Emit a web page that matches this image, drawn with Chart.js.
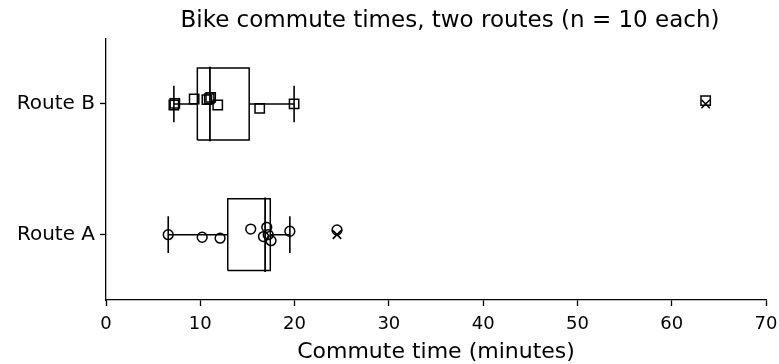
<!DOCTYPE html>
<html>
<head>
<meta charset="utf-8">
<script src="https://cdn.jsdelivr.net/npm/chart.js@4.4.0/dist/chart.umd.min.js"></script>
<style>
  html, body { margin: 0; padding: 0; background: #fff; }
  #wrap { width: 779px; height: 364px; }
</style>
</head>
<body>
<div id="wrap"><canvas id="grafico" width="779" height="364"></canvas></div>
<script>
// Datos
const rutas = ['Route A', 'Route B'];
const posiciones = [1, 2];
const tiemposA = [6.6, 10.2, 12.1, 15.35, 16.7, 17.05, 17.2, 17.5, 19.5, 24.5];
const jitterA = [0, -0.02, -0.027, 0.043, -0.015, 0.056, 0, -0.046, 0.026, 0.036];
const tiemposB = [7.2, 7.3, 9.35, 10.7, 10.95, 11.1, 11.85, 16.3, 19.95, 63.6];
const jitterB = [-0.008, 0.005, 0.038, 0.033, 0.04, 0.05, -0.008, -0.034, 0, 0.025];
const xTicks = [0, 10, 20, 30, 40, 50, 60, 70];

const anchoCaja = 0.275;
const anchoTope = 0.14;
const negro = '#000';

function percentil(valores, p) {
    const s = [...valores].sort((a, b) => a - b);
    const pos = (s.length - 1) * p;
    const i = Math.floor(pos);
    const f = pos - i;
    return i + 1 < s.length ? s[i] + f * (s[i + 1] - s[i]) : s[i];
}

function estadisticas(valores) {
    const q1 = percentil(valores, 0.25);
    const med = percentil(valores, 0.5);
    const q3 = percentil(valores, 0.75);
    const iqr = q3 - q1;
    const dentro = valores.filter(v => v >= q1 - 1.5 * iqr && v <= q3 + 1.5 * iqr);
    return {
        q1: q1, med: med, q3: q3,
        lo: Math.min(...dentro),
        hi: Math.max(...dentro),
        fuera: valores.filter(v => v < q1 - 1.5 * iqr || v > q3 + 1.5 * iqr)
    };
}

function linea(puntos, grosor) {
    return {
        type: 'scatter',
        data: puntos,
        showLine: true,
        borderColor: negro,
        borderWidth: grosor || 1.5,
        pointRadius: 0,
        fill: false
    };
}

function datasetsRuta(valores, jitter, p, forma, radio) {
    const st = estadisticas(valores);
    const w = anchoCaja, c = anchoTope;
    return [
        linea([{x: st.q1, y: p - w}, {x: st.q3, y: p - w}, {x: st.q3, y: p + w}, {x: st.q1, y: p + w}, {x: st.q1, y: p - w}]),
        linea([{x: st.med, y: p - w - 0.01}, {x: st.med, y: p + w + 0.01}], 1.8),
        linea([{x: st.lo, y: p}, {x: st.q1, y: p}]),
        linea([{x: st.q3, y: p}, {x: st.hi, y: p}]),
        linea([{x: st.lo, y: p - c}, {x: st.lo, y: p + c}], 1.6),
        linea([{x: st.hi, y: p - c}, {x: st.hi, y: p + c}], 1.6),
        {
            type: 'scatter',
            data: st.fuera.map(v => ({x: v, y: p})),
            pointStyle: 'crossRot',
            pointRadius: 6,
            borderColor: negro,
            borderWidth: 1.6
        },
        {
            type: 'scatter',
            data: valores.map((v, i) => ({x: v, y: p + jitter[i]})),
            pointStyle: forma,
            pointRadius: radio,
            borderColor: negro,
            backgroundColor: 'rgba(0,0,0,0)',
            borderWidth: 1.5
        }
    ];
}

// el titulo del original queda un poco a la derecha del centro
const correrTitulo = {
    id: 'correrTitulo',
    afterLayout(chart) {
        if (chart.titleBlock) {
            chart.titleBlock.left += 14;
            chart.titleBlock.right += 14;
        }
    }
};

Chart.defaults.font.family = "'DejaVu Sans', sans-serif";
Chart.defaults.color = negro;

const ctx = document.getElementById('grafico').getContext('2d');
new Chart(ctx, {
    type: 'scatter',
    data: {
        datasets: [
            ...datasetsRuta(tiemposA, jitterA, posiciones[0], 'circle', 4.9),
            ...datasetsRuta(tiemposB, jitterB, posiciones[1], 'rect', 6.6)
        ]
    },
    plugins: [correrTitulo],
    options: {
        responsive: false,
        animation: false,
        layout: { padding: { top: 0, right: 13, bottom: 0, left: 0 } },
        plugins: {
            legend: { display: false },
            tooltip: { enabled: false },
            title: {
                display: true,
                text: 'Bike commute times, two routes (n = 10 each)',
                fullSize: false,
                color: negro,
                font: { size: 23, weight: 'normal' },
                padding: { top: 7, bottom: 4 }
            }
        },
        scales: {
            x: {
                type: 'linear',
                min: xTicks[0],
                max: xTicks[xTicks.length - 1],
                afterBuildTicks: s => { s.ticks = xTicks.map(v => ({value: v})); },
                afterFit: s => { s.height = 64; s.paddingLeft = 0; s.paddingRight = 0; },
                ticks: { color: negro, font: { size: 18 }, padding: 8, maxRotation: 0 },
                grid: { drawOnChartArea: false, drawTicks: true, tickLength: 6, color: negro, tickWidth: 1.3 },
                border: { display: true, color: negro, width: 1.3 },
                title: {
                    display: true,
                    text: 'Commute time (minutes)',
                    color: negro,
                    font: { size: 22, lineHeight: 1.1 },
                    padding: { top: 0, bottom: 0 }
                }
            },
            y: {
                type: 'linear',
                min: 0.5,
                max: 2.5,
                afterBuildTicks: s => { s.ticks = posiciones.map(v => ({value: v})); },
                afterFit: s => { s.width = 106; s.paddingTop = 0; s.paddingBottom = 0; },
                ticks: {
                    color: negro,
                    font: { size: 20 },
                    padding: 5,
                    callback: v => rutas[posiciones.indexOf(v)]
                },
                grid: { drawOnChartArea: false, drawTicks: true, tickLength: 6, color: negro, tickWidth: 1.3 },
                border: { display: true, color: negro, width: 1.3 }
            }
        }
    }
});
</script>
</body>
</html>
